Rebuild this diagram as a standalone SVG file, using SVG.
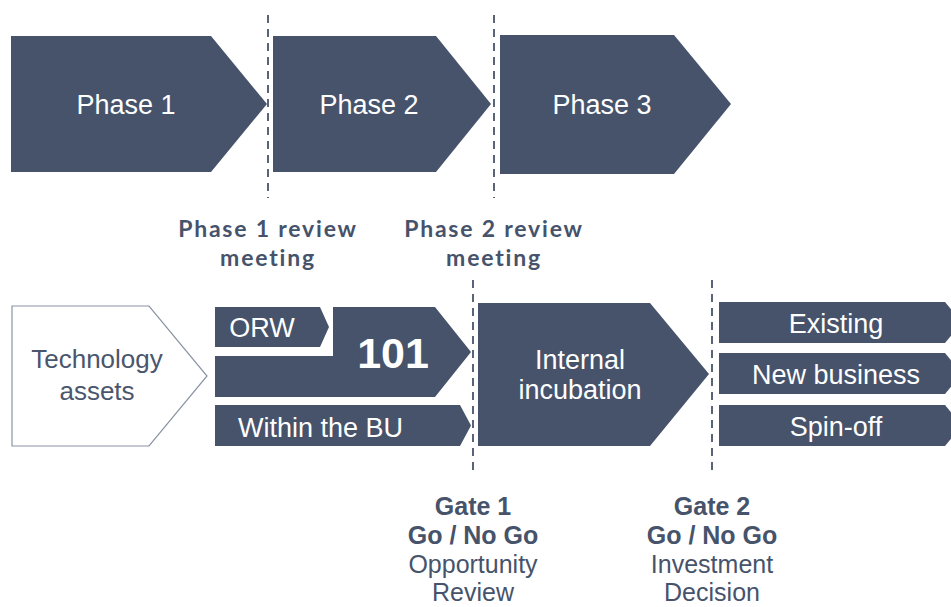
<svg xmlns="http://www.w3.org/2000/svg" width="951" height="607" viewBox="0 0 951 607">
<style>
.box{fill:#46536b;}
.outline{fill:#ffffff;stroke:#8a93a3;stroke-width:1.2;}
.wt{font-family:"Liberation Sans",Arial,sans-serif;fill:#ffffff;text-anchor:middle;font-size:27px;}
.dk{font-family:"Liberation Sans",Arial,sans-serif;fill:#4a566d;text-anchor:middle;font-size:26px;}
.rv{font-family:Lato,"Liberation Sans",sans-serif;font-weight:bold;fill:#46536b;text-anchor:middle;font-size:23px;letter-spacing:1.8px;}
.gt{font-family:"Liberation Sans",Arial,sans-serif;fill:#46536b;text-anchor:middle;font-size:25px;}
.b{font-weight:bold;}
.dash{stroke:#5a6478;stroke-width:2;stroke-dasharray:8 6;fill:none;}
</style>
<rect width="951" height="607" fill="#ffffff"/>
<g id="connectors">
<line class="dash" x1="268" y1="15" x2="268" y2="198"/>
<line class="dash" x1="494" y1="15" x2="494" y2="198"/>
<line class="dash" x1="473" y1="280" x2="473" y2="476"/>
<line class="dash" x1="712" y1="280" x2="712" y2="476"/>
</g>
<g id="phase1">
<polygon class="box" points="11,36 211,36 267,104 211,172 11,172"/>
<text class="wt" x="126" y="114">Phase 1</text>
</g>
<g id="phase2">
<polygon class="box" points="273,36 436,36 491,104 436,172 273,172"/>
<text class="wt" x="369" y="114">Phase 2</text>
</g>
<g id="phase3">
<polygon class="box" points="500,35 674,35 731,104 674,174 500,174"/>
<text class="wt" x="602" y="114">Phase 3</text>
</g>
<g id="review1">
<text class="rv" x="268" y="237">Phase 1 review</text>
<text class="rv" x="268" y="266">meeting</text>
</g>
<g id="review2">
<text class="rv" x="494" y="237">Phase 2 review</text>
<text class="rv" x="494" y="266">meeting</text>
</g>
<g id="tech">
<polygon class="outline" points="12,306 149,306 207,376 149,446 12,446"/>
<text class="dk" x="97" y="368">Technology</text>
<text class="dk" x="97" y="400">assets</text>
</g>
<g id="orw">
<polygon class="box" points="215,307 320,307 329,327 320,347 215,347"/>
<text class="wt" x="262" y="337">ORW</text>
</g>
<g id="n101">
<polygon class="box" points="333,307 435,307 471,352 435,397 215,397 215,356 333,356"/>
<text class="wt b" x="393" y="368" style="font-size:43px">101</text>
</g>
<g id="withinbu">
<polygon class="box" points="215,405 460,405 471,425.5 460,446 215,446"/>
<text class="wt" x="238" y="437" style="text-anchor:start">Within the BU</text>
</g>
<g id="incubation">
<polygon class="box" points="478,303 650,303 709,374 650,446 478,446"/>
<text class="wt" x="580" y="369">Internal</text>
<text class="wt" x="580" y="399">incubation</text>
</g>
<g id="existing">
<polygon class="box" points="719,302 945,302 962,322.5 945,343 719,343"/>
<text class="wt" x="836" y="333">Existing</text>
</g>
<g id="newbusiness">
<polygon class="box" points="719,353 945,353 962,373.5 945,394 719,394"/>
<text class="wt" x="836" y="384">New business</text>
</g>
<g id="spinoff">
<polygon class="box" points="719,405 945,405 962,425.5 945,446 719,446"/>
<text class="wt" x="836" y="436">Spin-off</text>
</g>
<g id="gate1">
<text class="gt b" x="473" y="515">Gate 1</text>
<text class="gt b" x="473" y="544">Go / No Go</text>
<text class="gt" x="473" y="573">Opportunity</text>
<text class="gt" x="473" y="601">Review</text>
</g>
<g id="gate2">
<text class="gt b" x="712" y="515">Gate 2</text>
<text class="gt b" x="712" y="544">Go / No Go</text>
<text class="gt" x="712" y="573">Investment</text>
<text class="gt" x="712" y="601">Decision</text>
</g>
</svg>
